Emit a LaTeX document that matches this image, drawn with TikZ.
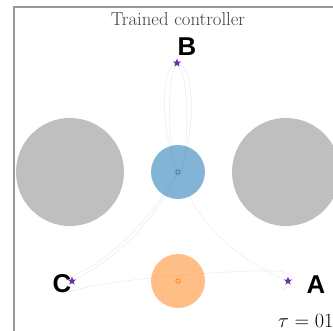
\documentclass[tikz,border=0pt]{standalone}
\usepackage{amsmath,amssymb}
\usepackage{fontspec}
\usepackage{xcolor}
\usepackage{tikz}
\usetikzlibrary{shapes.geometric}
\newfontfamily\labelfont{Liberation Sans}
\definecolor{obstgray}{HTML}{BFBFBF}
\definecolor{agentblue}{HTML}{1F77B4}
\definecolor{agentorange}{HTML}{FF7F0E}
\definecolor{goalpurple}{HTML}{6A2FA8}
\definecolor{trajgray}{HTML}{EBEBEB}
\definecolor{framegray}{HTML}{999999}

\tikzset{
    goal/.style={star, star points=5, star point ratio=2.4, fill=goalpurple,
        inner sep=0pt, minimum size=7.5pt},
    goallabel/.style={font=\labelfont\bfseries\fontsize{22}{24}\selectfont, inner sep=0pt},
    traj/.style={trajgray, line width=0.4pt},
}

\begin{document}
\begin{tikzpicture}[x=0.03cm, y=-0.03cm]
    \useasboundingbox (0,0) rectangle (333,330);
    % Draw outside frame (runs off the right and bottom)
    \fill[white] (0,0) rectangle (333,330);
    \draw[framegray, line width=1.2pt] (14,345) -- (14,7) -- (345,7);
    \node[font=\fontsize{16}{18}\selectfont, text=black!75] (title) at (178,19) {Trained controller};
    % Draw obstacles
    \fill[obstgray] (70,172) circle (54);
    \fill[obstgray] (286,172) circle (54);
    % Draw trajectories
    \draw[traj] (178,172) .. controls (158,125) and (162,63) .. (177,63)
        .. controls (193,63) and (198,125) .. (180,172);
    \draw[traj] (176,172) .. controls (166,130) and (168,70) .. (177,66)
        .. controls (188,70) and (190,130) .. (182,172);
    \draw[traj] (178,172) .. controls (150,230) and (110,262) .. (72,281)
        .. controls (55,290) and (55,296) .. (75,290)
        .. controls (120,278) and (230,270) .. (275,271)
        .. controls (300,272) and (295,285) .. (282,290);
    \draw[traj] (178,172) .. controls (200,230) and (240,260) .. (288,281);
    \draw[traj] (178,172) .. controls (140,235) and (100,265) .. (68,278);
    % Draw agents
    \fill[agentblue, opacity=0.55] (178,172) circle (27);
    \draw[agentblue, line width=0.6pt] (178,172) circle (2.2);
    \fill[agentorange, opacity=0.5] (178,281) circle (27);
    \draw[agentorange, line width=0.6pt] (178,281) circle (2.2);
    % Draw goals
    \node[goal] (goalB) at (177,63) {};
    \node[goal] (goalC) at (72,281) {};
    \node[goal] (goalA) at (288,281) {};
    \node[goallabel] (labB) at (187,47) {B};
    \node[goallabel] (labC) at (62,284) {C};
    \node[goallabel] (labA) at (316,285) {A};
    \node[font=\fontsize{16}{18}\selectfont, anchor=west, inner sep=0pt] (tau) at (278,321) {$\tau = 01$};
\end{tikzpicture}
\end{document}
